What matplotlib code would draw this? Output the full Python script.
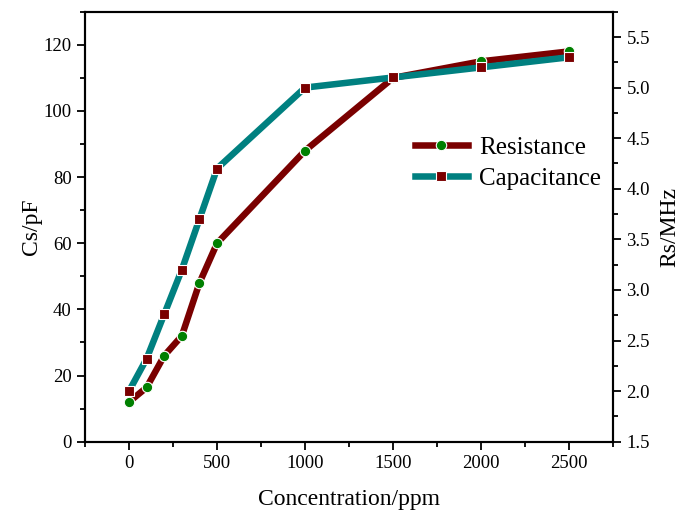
import matplotlib.pyplot as plt
from matplotlib.ticker import MultipleLocator

plt.rcParams["font.family"] = ["Liberation Serif", "DejaVu Serif"]

concentration = [0, 100, 200, 300, 400, 500, 1000, 1500, 2000, 2500]
resistance = [12, 16.4, 26, 32, 48, 60, 88, 110, 115, 118]
capacitance = [2.0, 2.32, 2.76, 3.2, 3.7, 4.2, 5.0, 5.1, 5.2, 5.3]

MAROON = "#7a0000"
TEAL = "#008080"
GREEN = "#008000"

fig = plt.figure(figsize=(6.87, 5.18), dpi=100)
ax = fig.add_axes([0.1237, 0.1473, 0.7690, 0.8301])
ax2 = ax.twinx()

l1, = ax.plot(concentration, resistance, color=MAROON, lw=4.7, marker="o",
              ms=7.5, mfc=GREEN, mec="white", mew=0.8, label="Resistance", zorder=3)
l2, = ax2.plot(concentration, capacitance, color=TEAL, lw=4.7, marker="s",
               ms=7, mfc=MAROON, mec="white", mew=0.8, label="Capacitance", zorder=3)

ax.set_xlim(-250, 2750)
ax.set_ylim(0, 130)
ax2.set_ylim(1.5, 5.75)

ax.xaxis.set_major_locator(MultipleLocator(500))
ax.xaxis.set_minor_locator(MultipleLocator(250))
ax.yaxis.set_major_locator(MultipleLocator(20))
ax.yaxis.set_minor_locator(MultipleLocator(10))
ax2.yaxis.set_major_locator(MultipleLocator(0.5))
ax2.yaxis.set_minor_locator(MultipleLocator(0.25))
ax2.yaxis.set_major_formatter(plt.FormatStrFormatter("%.1f"))

for a in (ax, ax2):
    a.tick_params(which="major", direction="out", length=6, width=1.3, labelsize=13.5)
    a.tick_params(which="minor", direction="out", length=3.5, width=1.3)
    for s in a.spines.values():
        s.set_linewidth(1.5)

ax.set_xlabel("Concentration/ppm", fontsize=17, labelpad=12)
ax.set_ylabel("Cs/pF", fontsize=17, labelpad=1)
ax2.set_ylabel("Rs/MHz", fontsize=17, labelpad=7)

ax2.legend(handles=[l1, l2], loc="upper left", bbox_to_anchor=(0.625, 0.71),
           frameon=False, fontsize=18, handlelength=2.1, handletextpad=0.45,
           labelspacing=0.35, borderaxespad=0, borderpad=0)

fig.savefig("out.png", dpi=100)
